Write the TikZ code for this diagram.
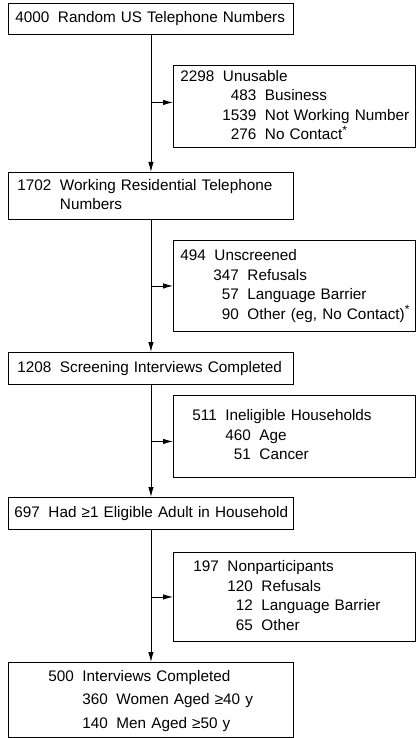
\documentclass[tikz,border=0pt]{standalone}
\usepackage{fontspec}
\setmainfont{Liberation Sans}
\usetikzlibrary{arrows.meta}
\newcommand{\gap}{\hspace{8.5pt}}
\newcommand{\note}{\textsuperscript{\fontsize{12}{12}\selectfont *}}
\tikzset{
  mainbox/.style={draw,line width=0.9pt,anchor=north west,text width=285pt,
    align=left,inner xsep=0pt,inner ysep=0pt,font=\fontsize{15.3}{19.5}\selectfont},
  sidebox/.style={mainbox,text width=242pt},
  flow/.style={line width=0.9pt,-{Latex[length=10pt,width=5.5pt]}}
}
\begin{document}
\begin{tikzpicture}[x=1pt,y=-1pt]
\useasboundingbox (0,0) rectangle (416,738);
% main column
\node[mainbox,minimum height=31pt] (numbers) at (8,3)
  {\begin{tabular}{@{\hspace{7pt}}l@{\gap}l@{}}4000 & Random US Telephone Numbers\end{tabular}};
\node[mainbox,minimum height=47pt] (working) at (8,172)
  {\begin{tabular}{@{\hspace{9pt}}l@{\gap}l@{}}1702 & Working Residential Telephone\\ & Numbers\end{tabular}};
\node[mainbox,minimum height=32pt] (screened) at (8,352)
  {\begin{tabular}{@{\hspace{9pt}}l@{\gap}l@{}}1208 & Screening Interviews Completed\end{tabular}};
\node[mainbox,minimum height=32pt] (eligible) at (8,497)
  {\begin{tabular}{@{\hspace{6pt}}l@{\gap}l@{}}697 & Had ≥1 Eligible Adult in Household\end{tabular}};
\node[mainbox,minimum height=75pt] (completed) at (8,662)
  {\renewcommand{\arraystretch}{1.2}\begin{tabular}{@{\hspace{74pt}}r@{\gap}l@{}}
  \multicolumn{2}{@{\hspace{40pt}}l@{}}{500\gap Interviews Completed}\\
  360 & Women Aged ≥40 y\\
  140 & Men Aged ≥50 y\end{tabular}};
% excluded
\node[sidebox,minimum height=82pt] (unusable) at (173,65)
  {\begin{tabular}{@{\hspace{49pt}}r@{\gap}l@{}}
  \multicolumn{2}{@{\hspace{7pt}}l@{}}{2298\gap Unusable}\\
  483 & Business\\
  1539 & Not Working Number\\
  276 & No Contact\note\end{tabular}};
\node[sidebox,minimum height=91pt] (unscreened) at (173,240)
  {\begin{tabular}{@{\hspace{40pt}}r@{\gap}l@{}}
  \multicolumn{2}{@{\hspace{7pt}}l@{}}{494\gap Unscreened}\\
  347 & Refusals\\
  57 & Language Barrier\\
  90 & Other (eg, No Contact)\note\end{tabular}};
\node[sidebox,minimum height=82pt] (ineligible) at (173,395)
  {\begin{tabular}{@{\hspace{52pt}}r@{\gap}l@{}}
  \multicolumn{2}{@{\hspace{19pt}}l@{}}{511\gap Ineligible Households}\\
  460 & Age\\
  51 & Cancer\end{tabular}};
\node[sidebox,minimum height=89pt] (nonpart) at (173,552)
  {\begin{tabular}{@{\hspace{54pt}}r@{\gap}l@{}}
  \multicolumn{2}{@{\hspace{20pt}}l@{}}{197\gap Nonparticipants}\\
  120 & Refusals\\
  12 & Language Barrier\\
  65 & Other\end{tabular}};
% arrow ends
\coordinate (in1) at ([yshift=4pt]unusable.west);
\coordinate (in3) at ([yshift=-5pt]ineligible.west);
% arrows
\draw[flow] (numbers.south) -- (working.north);
\draw[flow] (working.south) -- (screened.north);
\draw[flow] (screened.south) -- (eligible.north);
\draw[flow] (eligible.south) -- (completed.north);
\draw[flow] (numbers.south |- in1) -- (in1);
\draw[flow] (working.south |- unscreened.west) -- (unscreened.west);
\draw[flow] (screened.south |- in3) -- (in3);
\draw[flow] (eligible.south |- nonpart.west) -- (nonpart.west);
\end{tikzpicture}
\end{document}
